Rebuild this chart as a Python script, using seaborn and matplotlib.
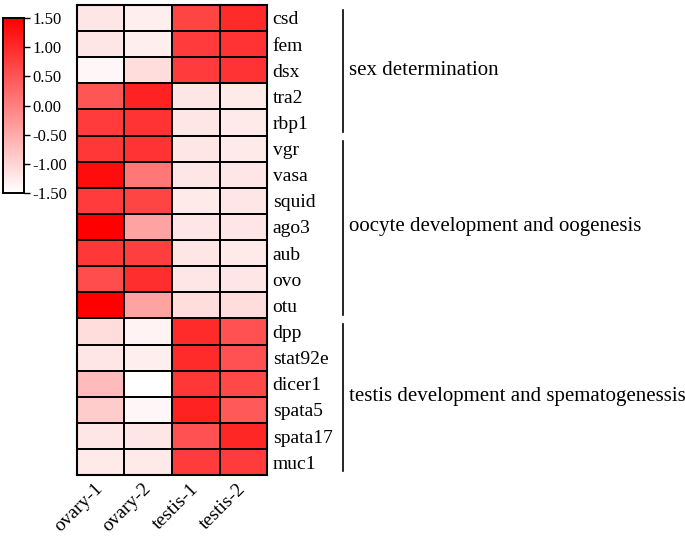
import numpy as np
import pandas as pd
import matplotlib
matplotlib.use('Agg')
import matplotlib.pyplot as plt
import seaborn as sns
from matplotlib.colors import LinearSegmentedColormap

# Data
samples = ['ovary-1', 'ovary-2', 'testis-1', 'testis-2']
genes = ['csd', 'fem', 'dsx', 'tra2', 'rbp1', 'vgr', 'vasa', 'squid', 'ago3',
         'aub', 'ovo', 'otu', 'dpp', 'stat92e', 'dicer1', 'spata5', 'spata17', 'muc1']
ovary_1 = [-1.2, -1.2, -1.4, 0.5, 0.8, 0.85, 1.35, 0.8, 1.5, 0.85, 0.6, 1.5,
           -1.1, -1.2, -0.7, -0.9, -1.2, -1.25]
ovary_2 = [-1.3, -1.3, -1.1, 1.1, 0.9, 0.9, 0.1, 0.7, -0.4, 0.75, 0.95, -0.4,
           -1.35, -1.3, -1.5, -1.4, -1.2, -1.25]
testis_1 = [0.7, 0.8, 0.8, -1.2, -1.2, -1.2, -1.2, -1.25, -1.2, -1.2, -1.2, -1.1,
            1.0, 1.0, 0.85, 1.1, 0.55, 0.8]
testis_2 = [1.0, 0.9, 0.9, -1.25, -1.25, -1.25, -1.2, -1.2, -1.2, -1.25, -1.2, -1.1,
            0.55, 0.55, 0.65, 0.45, 1.05, 0.8]
groups = ['sex determination', 'oocyte development and oogenesis',
          'testis development and spematogenessis']
group_sizes = [5, 7, 6]

df = pd.DataFrame({'ovary-1': ovary_1, 'ovary-2': ovary_2,
                   'testis-1': testis_1, 'testis-2': testis_2}, index=genes)[samples]

plt.rcParams['font.family'] = ['Liberation Serif', 'DejaVu Serif']

cmap = LinearSegmentedColormap.from_list('wr', ['#ffffff', '#ff0000'])

fig = plt.figure(figsize=(6.85, 5.37), dpi=100)
ax = fig.add_axes([0.112, 0.115, 0.278, 0.876])
cax = fig.add_axes([0.004, 0.641, 0.031, 0.325])

sns.heatmap(df, ax=ax, cbar_ax=cax, cmap=cmap, vmin=-1.5, vmax=1.5,
            linewidths=1.2, linecolor='black',
            cbar_kws={'ticks': [-1.5, -1.0, -0.5, 0.0, 0.5, 1.0, 1.5], 'format': '%.2f'})

# Heatmap labels
ax.yaxis.tick_right()
ax.set_yticks(np.arange(len(genes)) + 0.5)
ax.set_yticklabels(genes, rotation=0, fontsize=14)
ax.set_xticklabels(samples, rotation=45, ha='right', va='center',
                   rotation_mode='anchor', fontsize=14)
ax.tick_params(axis='y', length=0, pad=4)
ax.tick_params(axis='x', length=0, pad=8)
ax.set_xlabel('')
ax.set_ylabel('')
for s in ax.spines.values():
    s.set_visible(True)
    s.set_linewidth(1.5)
    s.set_color('black')

# Colorbar styling
cax.tick_params(labelsize=12, length=4, width=1, pad=2)
for s in cax.spines.values():
    s.set_visible(True)
    s.set_linewidth(1.2)
    s.set_color('black')

# Group brackets and labels
start = 0
for name, n in zip(groups, group_sizes):
    y0 = start + 0.2
    y1 = start + n - 0.15
    ax.plot([5.6, 5.6], [y0, y1], color='black', lw=1.2, clip_on=False)
    ax.text(5.72, start + n / 2, name, va='center', ha='left', fontsize=15)
    start += n

fig.savefig('out.png', dpi=100)
